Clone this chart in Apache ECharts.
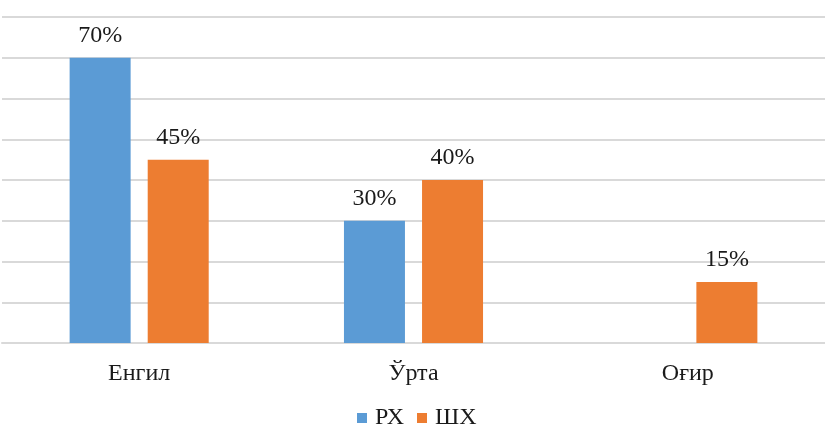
<!DOCTYPE html>
<html>
<head>
<meta charset="utf-8">
<style>
  html, body { margin: 0; padding: 0; background: #fff; }
  #chart { width: 825px; height: 428px; }
</style>
<script src="https://cdn.jsdelivr.net/npm/echarts@6/dist/echarts.min.js"></script>
</head>
<body>
<div id="chart"></div>
<script>
// Severity categories and the share of patients in each group (%)
const categories = ['Енгил', 'Ўрта', 'Оғир'];
const seriesNames = ['РХ', 'ШХ'];
const rxValues = [70, 30, null];
const shxValues = [45, 40, 15];

const font = '"Liberation Serif", "Times New Roman", serif';

const chart = echarts.init(document.getElementById('chart'), null, { renderer: 'canvas' });

const labelStyle = {
  show: true,
  position: 'top',
  distance: 10,
  formatter: p => p.value == null ? '' : p.value + '%',
  fontFamily: font,
  fontSize: 24,
  color: '#1a1a1a'
};

chart.setOption({
  animation: false,
  backgroundColor: '#ffffff',
  grid: { left: 2, right: 0, top: 17, bottom: 85, containLabel: false },
  legend: {
    top: 401,
    left: 352,
    itemWidth: 10,
    itemHeight: 10,
    itemGap: 13,
    icon: 'rect',
    textStyle: { fontFamily: font, fontSize: 24, color: '#1a1a1a', padding: [0, 0, 0, 3] },
    data: seriesNames
  },
  xAxis: {
    type: 'category',
    data: categories,
    axisLine: { show: true, lineStyle: { color: '#d9d9d9', width: 2 } },
    axisTick: { show: false },
    axisLabel: { fontFamily: font, fontSize: 24, color: '#1a1a1a', margin: 19 }
  },
  yAxis: {
    type: 'value',
    min: 0,
    max: 80,
    interval: 10,
    axisLabel: { show: false },
    axisLine: { show: false },
    axisTick: { show: false },
    splitLine: { lineStyle: { color: '#d9d9d9', width: 2 } }
  },
  series: [
    {
      name: seriesNames[0],
      type: 'bar',
      data: rxValues,
      barWidth: 61,
      barGap: '28%',
      itemStyle: { color: '#5B9BD5' },
      label: labelStyle
    },
    {
      name: seriesNames[1],
      type: 'bar',
      data: shxValues,
      barWidth: 61,
      barGap: '28%',
      itemStyle: { color: '#ED7D31' },
      label: labelStyle
    }
  ]
});
</script>
</body>
</html>
